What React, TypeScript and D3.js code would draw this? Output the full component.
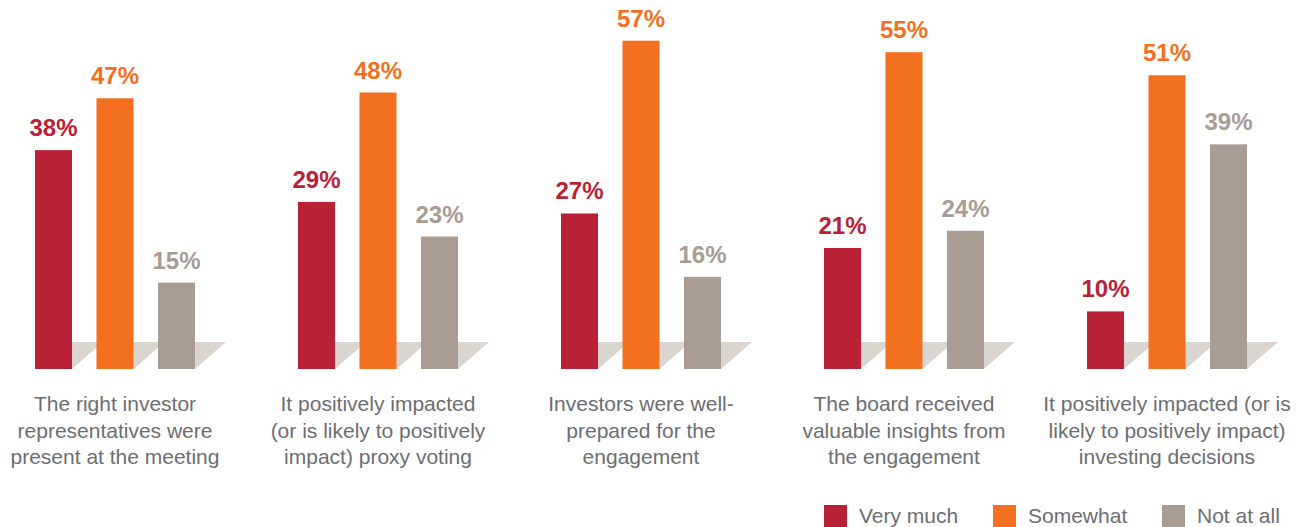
import React from "react";
import * as d3 from "d3";

const categories: string[][] = [
  ["The right investor", "representatives were", "present at the meeting"],
  ["It positively impacted", "(or is likely to positively", "impact) proxy voting"],
  ["Investors were well-", "prepared for the", "engagement"],
  ["The board received", "valuable insights from", "the engagement"],
  ["It positively impacted (or is", "likely to positively impact)", "investing decisions"],
];

const seriesNames = ["Very much", "Somewhat", "Not at all"];
const veryMuch = [38, 29, 27, 21, 10];
const somewhat = [47, 48, 57, 55, 51];
const notAtAll = [15, 23, 16, 24, 39];
const seriesValues = [veryMuch, somewhat, notAtAll];
const seriesColors = ["#b92136", "#f37021", "#a89c93"];

const W = 1304;
const H = 527;
const BASE = 369;
const SHADOW_DX = 31;
const SHADOW_DY = 27;
const FONT = "'Liberation Sans', Arial, Helvetica, sans-serif";
const TEXT = "#6d6e71";

export default function App() {
  const groupKeys = categories.map((_, i) => String(i));
  const x0 = d3.scaleBand<string>().domain(groupKeys).range([-16.5, 1298.5]).padding(0);
  const x1 = d3
    .scaleBand<string>()
    .domain(seriesNames)
    .range([51.5, 211.5])
    .paddingInner(0.398)
    .paddingOuter(0);
  const y = d3.scaleLinear().domain([0, 100]).range([BASE, BASE - 576]);
  const bw = x1.bandwidth();

  const bars = groupKeys.flatMap((g, gi) =>
    seriesNames.map((s, si) => {
      const left = (x0(g) ?? 0) + (x1(s) ?? 0);
      const v = seriesValues[si][gi];
      return { key: `${g}-${s}`, left, v, top: y(v), color: seriesColors[si] };
    })
  );

  const legendX = [824, 993, 1162];

  return (
    <svg
      width={W}
      height={H}
      style={{ position: "absolute", left: 0, top: 0, background: "#fff" }}
      fontFamily={FONT}
    >
      {bars.map((b) => (
        <polygon
          key={"sh" + b.key}
          points={[
            [b.left, BASE],
            [b.left + bw, BASE],
            [b.left + bw + SHADOW_DX, BASE - SHADOW_DY],
            [b.left + SHADOW_DX, BASE - SHADOW_DY],
          ]
            .map((p) => p.join(","))
            .join(" ")}
          fill="#dbd5d0"
        />
      ))}
      {bars.map((b) => (
        <g key={b.key}>
          <rect x={b.left} y={b.top} width={bw} height={BASE - b.top} fill={b.color} />
          <text
            x={b.left + bw / 2}
            y={b.top - 14}
            textAnchor="middle"
            fontSize={24}
            fontWeight="bold"
            fill={b.color}
          >
            {b.v}%
          </text>
        </g>
      ))}
      {categories.map((lines, gi) => {
        const cx = (x0(String(gi)) ?? 0) + x0.bandwidth() / 2;
        return (
          <text key={"c" + gi} x={cx} textAnchor="middle" fontSize={21} fill={TEXT}>
            {lines.map((l, li) => (
              <tspan key={li} x={cx} y={411 + li * 26.5}>
                {l}
              </tspan>
            ))}
          </text>
        );
      })}
      {seriesNames.map((s, si) => (
        <g key={"lg" + s}>
          <rect x={legendX[si]} y={505} width={23} height={23} fill={seriesColors[si]} />
          <text x={legendX[si] + 35} y={523} fontSize={21} fill={TEXT}>
            {s}
          </text>
        </g>
      ))}
    </svg>
  );
}
